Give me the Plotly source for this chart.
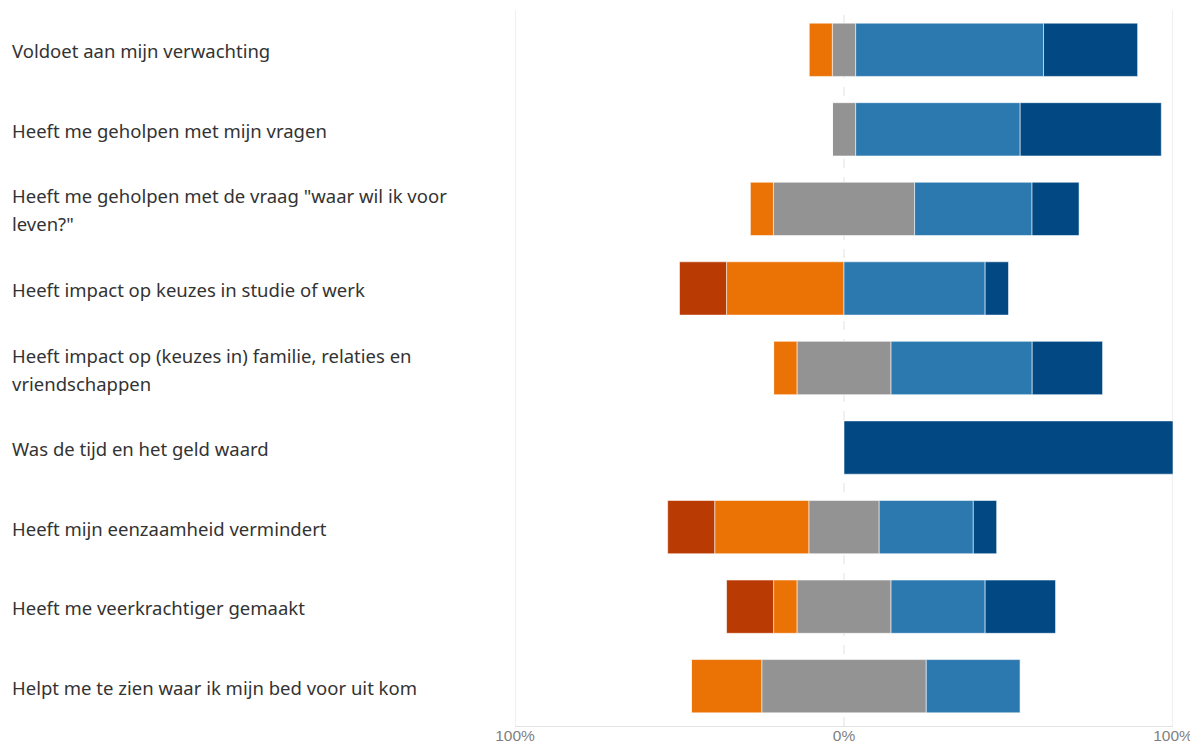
import plotly.graph_objects as go

categories = [
    "Voldoet aan mijn verwachting",
    "Heeft me geholpen met mijn vragen",
    "Heeft me geholpen met de vraag \"waar wil ik voor<br>leven?\"",
    "Heeft impact op keuzes in studie of werk",
    "Heeft impact op (keuzes in) familie, relaties en<br>vriendschappen",
    "Was de tijd en het geld waard",
    "Heeft mijn eenzaamheid vermindert",
    "Heeft me veerkrachtiger gemaakt",
    "Helpt me te zien waar ik mijn bed voor uit kom",
]

# percentages per answer category
helemaal_oneens = [0, 0, 0, 14.3, 0, 0, 14.3, 14.3, 0]
oneens = [7.1, 0, 7.1, 35.7, 7.1, 0, 28.6, 7.1, 21.4]
neutraal = [7.1, 7.1, 42.9, 0, 28.6, 0, 21.4, 28.6, 50.0]
eens = [57.1, 50.0, 35.7, 42.9, 42.9, 0, 28.6, 28.6, 28.6]
helemaal_eens = [28.6, 42.9, 14.3, 7.1, 21.4, 100.0, 7.1, 21.4, 0]

tick_vals = [-100, 0, 100]
tick_text = ["100%", "0%", "100%"]

C_DRED = "#B93A02"
C_ORANGE = "#EB7205"
C_GREY = "#939393"
C_BLUE = "#2C79B0"
C_DBLUE = "#024983"

W, H = 1190, 736  # page body adds an 8px margin

fig = go.Figure()

def add(lengths, bases, color):
    fig.add_trace(go.Bar(
        y=categories, x=lengths, base=bases, orientation="h",
        marker=dict(color=color, line=dict(color="rgba(255,255,255,0.55)", width=1)),
        width=0.67, showlegend=False, hoverinfo="skip",
    ))

half_n = [v / 2 for v in neutraal]
add(neutraal, [-h for h in half_n], C_GREY)
add(oneens, [-h - o for h, o in zip(half_n, oneens)], C_ORANGE)
add(helemaal_oneens, [-h - o - d for h, o, d in zip(half_n, oneens, helemaal_oneens)], C_DRED)
add(eens, half_n, C_BLUE)
add(helemaal_eens, [h + e for h, e in zip(half_n, eens)], C_DBLUE)

# vertical reference lines
for xv in tick_vals:
    fig.add_shape(type="line", xref="x", yref="paper", x0=xv, x1=xv, y0=0, y1=1,
                  line=dict(color="#e6e6e6", width=1.2, dash="dash" if xv == 0 else "solid"),
                  layer="below")

# left-aligned category labels
for cat in categories:
    parts = cat.split("<br>")
    n = len(parts)
    for i, p in enumerate(parts):
        shift = (n - 1) * 14 - i * 28
        fig.add_annotation(text=p, x=2 / W, xref="paper", y=cat, yref="y",
                           xanchor="left", yanchor="middle", yshift=shift - 1,
                           showarrow=False,
                           font=dict(family="Noto Sans", size=18.5, color="#333333"))

fig.update_layout(
    width=W, height=H,
    barmode="overlay",
    plot_bgcolor="white", paper_bgcolor="white",
    margin=dict(l=0, r=0, t=2, b=18),
    xaxis=dict(domain=[507 / W, 1165 / W], range=[-100, 100],
               tickvals=tick_vals, ticktext=tick_text, showgrid=False,
               zeroline=False, showline=True, linecolor="#e3e3e3", linewidth=1,
               ticks="", automargin=False, ticklabelstandoff=-5,
               tickfont=dict(family="Liberation Sans", size=15.5, color="#7f7f7f")),
    yaxis=dict(categoryorder="array", categoryarray=categories,
               showticklabels=False, showgrid=False, zeroline=False, ticks="",
               range=[8.5, -0.5]),
)

fig.write_html("out.html")
